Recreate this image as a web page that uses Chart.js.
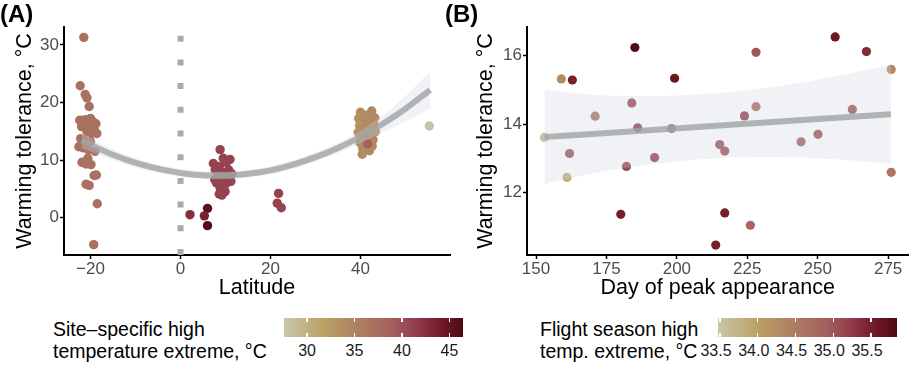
<!DOCTYPE html>
<html>
<head>
<meta charset="utf-8">
<script src="https://cdn.jsdelivr.net/npm/chart.js@4.4.1/dist/chart.umd.min.js"></script>
<style>
  body { margin: 0; background: #fff; width: 913px; height: 366px; overflow: hidden; position: relative; font-family: "Liberation Sans", Arial, sans-serif; }
  .panel { position: absolute; top: 0; height: 300px; }
  .tag { position: absolute; top: 0; font-size: 24px; font-weight: bold; color: #000; }
  .ltitle { position: absolute; font-size: 19.5px; line-height: 22.3px; color: #000; white-space: nowrap; }
  .bar { position: absolute; top: 318px; height: 19px; }
  .barmark { position: absolute; width: 1.3px; height: 4px; background: #fff; }
  .tlab { position: absolute; top: 342px; font-size: 16px; color: #1a1a1a; transform: translateX(-50%); white-space: nowrap; }
</style>
</head>
<body>
<div class="panel" style="left:0;width:456px"><canvas id="chartA" width="456" height="300"></canvas></div>
<div class="panel" style="left:460px;width:453px"><canvas id="chartB" width="453" height="300"></canvas></div>
<div class="tag" style="left:0">(A)</div>
<div class="tag" style="left:445px">(B)</div>
<div class="ltitle" style="left:53px;top:318px">Site–specific high<br>temperature extreme, °C</div>
<div class="ltitle" style="left:540px;top:318px">Flight season high<br>temp. extreme, °C</div>
<div class="bar" id="barA" style="left:284.3px;width:178.4px"></div>
<div class="bar" id="barB" style="left:718.3px;width:178.4px"></div>
<div id="legendTicks"></div>

<script>
// ---- Panel A: warming tolerance vs latitude ----
var latA = [-21.5, -22.3, -21.2, -20.8, -20.3,
    -22.4, -21.8, -21.2, -20.6, -20.0, -19.4, -18.8, -22.0, -21.0, -20.2, -19.2, -18.6, -20.8, -19.8,
    -22.2, -21.3, -20.0, -22.6, -21.6, -19.0, -20.5,
    -21.9, -21.0, -19.9, -20.6, -19.2, -18.7, -21.0, -20.3, -18.5, -19.3,
    8.8, 7.3, 9.5, 11.0, 10.2, 7.7, 8.6, 10.7, 11.4, 9.3, 8.4, 10.3, 7.6, 9.6, 8.0, 10.1, 11.2, 8.8, 8.6, 9.9, 9.2,
    2.1, 6.0, 5.3, 6.0,
    21.8, 21.5, 22.4,
    40.0, 42.5, 41.2, 39.6, 43.2, 40.6, 42.0, 39.8, 41.5, 43.0, 40.4, 42.3, 39.5, 41.0, 43.3, 40.2, 41.8, 42.8, 39.9, 41.2, 42.6, 40.5, 42.0, 40.4, 41.6,
    55.3];
var tolA = [31.3, 22.9, 21.4, 20.8, 19.3,
    16.9, 16.2, 17.0, 16.5, 17.2, 16.6, 16.3, 15.8, 15.6, 15.9, 15.3, 14.6, 14.9, 14.6,
    13.7, 13.4, 13.2, 12.3, 12.1, 11.5, 11.8,
    9.6, 9.3, 9.2, 10.3, 7.3, 7.4, 5.8, 5.6, 2.4, -4.7,
    11.8, 9.4, 10.3, 10.1, 9.6, 8.3, 8.9, 8.3, 7.6, 7.9, 7.1, 6.8, 6.6, 6.4, 6.0, 5.9, 6.3, 5.2, 4.1, 4.5, 3.9,
    0.5, 1.6, 0.3, -1.4,
    4.2, 2.5, 1.7,
    18.3, 18.5, 17.8, 17.2, 17.3, 16.8, 16.9, 16.0, 16.2, 16.1, 15.4, 15.5, 14.8, 14.6, 14.9, 13.9, 14.0, 13.5, 13.0, 12.9, 12.4, 12.0, 11.6, 11.0, 12.8,
    15.9];
var tempA = [37, 37, 37, 37, 37,
    37, 37, 37, 37, 37, 37, 37, 37, 37, 37, 37, 37, 37, 37,
    37, 37, 37, 37, 37, 37, 37,
    37, 37, 37, 37, 37, 37, 37, 37, 37, 37,
    41, 41, 41, 41, 41, 41, 41, 41, 41, 41, 41, 41, 41, 41, 41, 41, 41, 41, 41, 41, 41,
    42.5, 45.5, 43.5, 46,
    41, 41, 41,
    34, 34.3, 34, 33.6, 34.3, 34, 34.3, 33.6, 34, 34.3, 34, 34.3, 33.6, 34, 34.6, 33.6, 34.3, 34.6, 34, 34, 34.3, 34, 34.3, 34.3, 38.5,
    28];
var fitLatA = [-22, -15, -10, -5, 0, 5, 10, 15, 20, 25, 30, 35, 40, 45, 50, 55.5];
var fitA =    [13.4, 10.9, 9.5, 8.5, 7.75, 7.37, 7.32, 7.6, 8.2, 9.2, 10.5, 12.1, 14.0, 16.3, 18.9, 22.2];
var fitLoA =  [12.1, 9.95, 8.7, 7.8, 7.1, 6.72, 6.67, 6.95, 7.5, 8.45, 9.7, 11.2, 12.95, 14.8, 16.7, 19.0];
var fitHiA =  [14.7, 11.85, 10.3, 9.2, 8.4, 8.02, 7.97, 8.25, 8.9, 9.95, 11.3, 13.0, 15.05, 17.8, 21.1, 25.4];
var xTicksA = [-20, 0, 20, 40];
var yTicksA = [0, 10, 20, 30];

// ---- Panel B: warming tolerance vs day of peak appearance ----
var dayB = [153, 159, 162.9, 161.9, 161, 171, 180.1, 182.1, 184, 185.1, 186.1, 192.1, 198.1, 199.2,
    213.8, 215.2, 217, 217, 224, 226.1, 228.1, 228.1, 244.1, 250.1, 256.2, 262.3, 267.3, 276.1, 276.1];
var tolB = [13.61, 15.32, 15.29, 13.14, 12.44, 14.23, 11.36, 12.76, 14.62, 16.24, 13.89, 13.02, 13.87, 15.34,
    10.46, 13.40, 13.21, 11.40, 14.24, 11.04, 16.10, 14.51, 13.48, 13.70, 16.55, 14.43, 16.12, 15.60, 12.59];
var tempB = [33.5, 34.3, 35.5, 35.0, 33.8, 34.6, 35.5, 35.1, 35.1, 35.8, 35.2, 35.2, 34.9, 35.6,
    35.5, 35.0, 35.0, 35.5, 35.2, 34.8, 35.0, 34.7, 34.9, 35.0, 35.6, 35.0, 35.4, 34.3, 34.6];
var fitDayB = [153, 170, 190, 210, 230, 250, 276];
var fitB =    [13.62, 13.71, 13.82, 13.93, 14.04, 14.15, 14.29];
var fitLoB =  [12.24, 12.56, 12.82, 12.98, 13.04, 13.0, 12.84];
var fitHiB =  [15.0, 14.86, 14.82, 14.88, 15.04, 15.3, 15.74];
var xTicksB = [150, 175, 200, 225, 250, 275];
var yTicksB = [12, 14, 16];

// legend scales
var legTicksA = [30, 35, 40, 45];
var legTicksB = [33.5, 34.0, 34.5, 35.0, 35.5];

// colour ramp (light beige -> gold -> tan -> red -> dark red)
var rampPos = [0, 0.22, 0.42, 0.6, 0.75, 0.88, 1];
var rampCol = ['#c9c6ab', '#b9a262', '#ae7e62', '#a3605d', '#903a4a', '#701a26', '#4e0a10'];

function hexRgb(h) {
    return [parseInt(h.substr(1, 2), 16), parseInt(h.substr(3, 2), 16), parseInt(h.substr(5, 2), 16)];
}
function rampColor(f) {
    f = Math.max(0, Math.min(1, f));
    for (var i = 1; i < rampPos.length; i++) {
        if (f <= rampPos[i]) {
            var t = (f - rampPos[i - 1]) / (rampPos[i] - rampPos[i - 1]);
            var a = hexRgb(rampCol[i - 1]), b = hexRgb(rampCol[i]);
            return 'rgb(' + Math.round(a[0] + (b[0] - a[0]) * t) + ',' +
                Math.round(a[1] + (b[1] - a[1]) * t) + ',' + Math.round(a[2] + (b[2] - a[2]) * t) + ')';
        }
    }
    return rampCol[rampCol.length - 1];
}

var minA = 27.6, maxA = 46.4;
var minB = 33.478, maxB = 35.84;

function pts(xs, ys) {
    return xs.map(function (x, i) { return { x: x, y: ys[i] }; });
}

var lineCol = 'rgba(160,163,163,0.8)';
var bandCol = 'rgba(205,212,225,0.3)';
var tickFont = { family: 'Liberation Sans', size: 17 };
var titleFont = { family: 'Liberation Sans', size: 21.5 };

// theme_classic look: solid black axis lines with short outward ticks
function axisX(min, max, ticks, title, fmt) {
    return {
        type: 'linear', min: min, max: max,
        afterBuildTicks: function (s) { s.ticks = ticks.map(function (v) { return { value: v }; }); },
        afterFit: function (s) { s.height = 45; },
        grid: { drawOnChartArea: false, drawTicks: true, tickLength: 4, tickColor: '#000', tickWidth: 1.5 },
        border: { display: true, color: '#000', width: 2 },
        ticks: { color: '#4d4d4d', font: tickFont, padding: 0, maxRotation: 0, callback: fmt },
        title: { display: true, text: title, color: '#000', font: titleFont, padding: { top: 0, bottom: -1 } }
    };
}
function axisY(min, max, ticks, w, tpad) {
    return {
        type: 'linear', min: min, max: max,
        afterBuildTicks: function (s) { s.ticks = ticks.map(function (v) { return { value: v }; }); },
        afterFit: function (s) { s.width = w; },
        grid: { drawOnChartArea: false, drawTicks: true, tickLength: 4, tickColor: '#000', tickWidth: 1.5 },
        border: { display: true, color: '#000', width: 2 },
        ticks: { color: '#4d4d4d', font: tickFont, padding: 1 },
        title: { display: true, text: 'Warming tolerance, °C', color: '#000', font: titleFont, padding: { top: tpad, bottom: 0 } }
    };
}

var minus = function (v) { return v < 0 ? '\u2212' + Math.abs(v) : String(v); };

// Chart A
var chartA = new Chart(document.getElementById('chartA').getContext('2d'), {
    type: 'scatter',
    data: {
        datasets: [
            { type: 'line', data: pts(fitLatA, fitLoA), borderWidth: 0, pointRadius: 0, fill: false, cubicInterpolationMode: 'monotone', order: 2 },
            { type: 'line', data: pts(fitLatA, fitHiA), borderWidth: 0, pointRadius: 0, fill: '-1', backgroundColor: bandCol, cubicInterpolationMode: 'monotone', order: 2 },
            { type: 'line', data: pts(fitLatA, fitA), borderColor: lineCol, borderWidth: 6, pointRadius: 0, fill: false, cubicInterpolationMode: 'monotone', order: 1 },
            { type: 'line', data: [{ x: 0, y: -6.5 }, { x: 0, y: 33.1 }], borderColor: '#aaaaaa', borderWidth: 6, borderDash: [6, 17.7], borderCapStyle: 'butt', pointRadius: 0, fill: false, order: 4 },
            { data: pts(latA, tolA), pointRadius: 4.7, pointHoverRadius: 4.7, borderWidth: 0,
              pointBackgroundColor: tempA.map(function (t) { return rampColor((t - minA) / (maxA - minA)); }), order: 3 }
        ]
    },
    options: {
        responsive: false, animation: false, devicePixelRatio: 1,
        layout: { padding: { top: 27, right: 6, left: 0, bottom: 0 } },
        plugins: { legend: { display: false }, tooltip: { enabled: false } },
        scales: {
            x: axisX(-25.9, 59.9, xTicksA, 'Latitude', minus),
            y: axisY(-6.5, 33.1, yTicksA, 64, 12)
        }
    }
});

// Chart B
var chartB = new Chart(document.getElementById('chartB').getContext('2d'), {
    type: 'scatter',
    data: {
        datasets: [
            { type: 'line', data: pts(fitDayB, fitLoB), borderWidth: 0, pointRadius: 0, fill: false, cubicInterpolationMode: 'monotone', order: 2 },
            { type: 'line', data: pts(fitDayB, fitHiB), borderWidth: 0, pointRadius: 0, fill: '-1', backgroundColor: bandCol, cubicInterpolationMode: 'monotone', order: 2 },
            { type: 'line', data: pts(fitDayB, fitB), borderColor: lineCol, borderWidth: 6, pointRadius: 0, fill: false, order: 1 },
            { data: pts(dayB, tolB), pointRadius: 4.6, pointHoverRadius: 4.6, borderWidth: 0,
              pointBackgroundColor: tempB.map(function (t) { return rampColor((t - minB) / (maxB - minB)); }), order: 3 }
        ]
    },
    options: {
        responsive: false, animation: false, devicePixelRatio: 1,
        layout: { padding: { top: 27, right: 1, left: 0, bottom: 0 } },
        plugins: { legend: { display: false }, tooltip: { enabled: false } },
        scales: {
            x: axisX(146.8, 282.2, xTicksB, 'Day of peak appearance', function (v) { return String(v); }),
            y: axisY(10.17, 16.84, yTicksB, 67, 13)
        }
    }
});

// colour bar legends
var grad = 'linear-gradient(to right,' + rampPos.map(function (p, i) { return rampCol[i] + ' ' + (p * 100) + '%'; }).join(',') + ')';
document.getElementById('barA').style.background = grad;
document.getElementById('barB').style.background = grad;

var holder = document.getElementById('legendTicks');
function addLegend(ticks, left, width, min, max, shift, digits) {
    ticks.forEach(function (v) {
        var x = left + (v - min) / (max - min) * width;
        [318, 333].forEach(function (top) {
            var d = document.createElement('div');
            d.className = 'barmark';
            d.style.left = (x - 0.65) + 'px';
            d.style.top = top + 'px';
            holder.appendChild(d);
        });
        var l = document.createElement('div');
        l.className = 'tlab';
        l.style.left = (x + shift) + 'px';
        l.textContent = v.toFixed(digits);
        holder.appendChild(l);
    });
}
addLegend(legTicksA, 284.3, 178.4, minA, maxA, 0, 0);
addLegend(legTicksB, 718.3, 178.4, minB, maxB, -4, 1);
</script>
</body>
</html>
